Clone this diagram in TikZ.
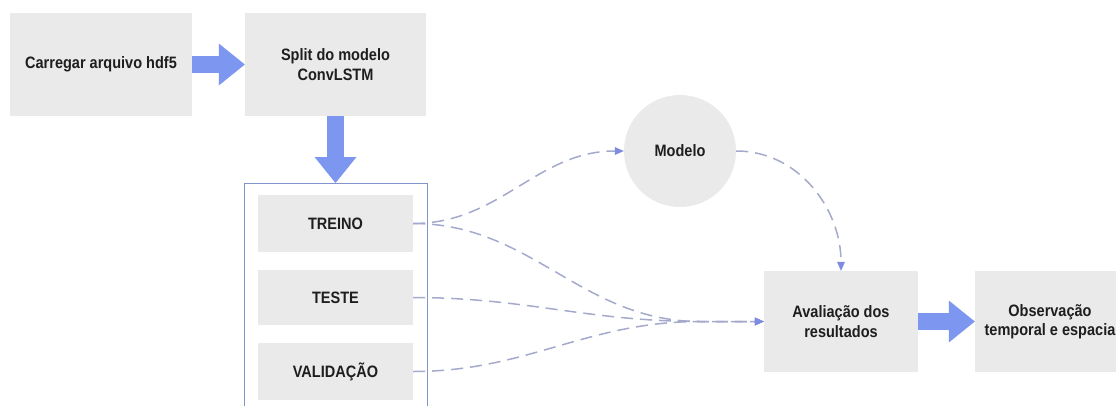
\documentclass[tikz,border=0pt]{standalone}
\usepackage{fontspec}
\setmainfont{Liberation Sans}[FakeStretch=0.88]
\usetikzlibrary{arrows.meta,calc}
\definecolor{boxgray}{RGB}{234,234,234}
\definecolor{fatblue}{RGB}{125,150,240}
\definecolor{dashc}{RGB}{165,170,205}
\definecolor{tipblue}{RGB}{125,140,225}
\definecolor{framec}{RGB}{130,148,205}
\definecolor{txt}{RGB}{30,30,30}
\begin{document}
\begin{tikzpicture}[x=1pt,y=-1pt,
  font=\fontsize{16.5}{19.5}\selectfont\bfseries,
  box/.style={fill=boxgray, draw=none, align=center, inner sep=0pt, text=txt},
  fat/.style={line width=17pt, fatblue, -{Triangle[width=42pt,length=26pt,line width=0pt]}},
  dl/.style={dashc, line width=1.5pt, dash pattern=on 12pt off 7pt,
    -{Triangle[length=9pt,width=8pt,line width=0pt,fill=tipblue,color=tipblue]}}]
\clip (0,0) rectangle (1116,405);
\fill[white] (0,0) rectangle (1116,405);
% nodes
\node[box, minimum width=182pt, minimum height=103pt] (load) at (101,64.5) {Carregar arquivo hdf5};
\node[box, minimum width=181pt, minimum height=103pt] (split) at (335.5,64.5) {Split do modelo\\ConvLSTM};
\node[draw=framec, line width=0.8pt, minimum width=183pt, minimum height=240pt, anchor=north, inner sep=0pt] (group) at (335.5,183) {};
\node[box, minimum width=155pt, minimum height=57pt] (treino) at (335.5,223.5) {TREINO};
\node[box, minimum width=155pt, minimum height=55pt] (teste) at (335.5,297.5) {TESTE};
\node[box, minimum width=155pt, minimum height=57pt] (valid) at (335.5,371.5) {VALIDAÇÃO};
\node[circle, fill=boxgray, minimum size=112pt, inner sep=0pt, text=txt] (modelo) at (680,151) {Modelo};
\node[box, minimum width=154pt, minimum height=101pt] (aval) at (841,321.5) {Avaliação dos\\resultados};
\node[box, minimum width=150pt, minimum height=101pt] (obs) at (1050,321.5) {Observação\\temporal e espacia};
\coordinate (merge) at (700,321.5);
% fat arrows
\draw[fat] (load.east) -- (split.west);
\draw[fat] (split.south) -- (group.north);
\draw[fat] (aval.east) -- (obs.west);
% dashed connectors
\draw[dl] (treino.east) to[out=0,in=180] (modelo.west);
\draw[dl] (treino.east) to[out=0,in=180] (merge) -- (aval.west);
\draw[dl] (teste.east) to[out=0,in=180] (merge) -- (aval.west);
\draw[dl] (valid.east) to[out=0,in=180] (merge) -- (aval.west);
\draw[dl] (modelo.east) to[out=0,in=90] (aval.north);
\end{tikzpicture}
\end{document}
